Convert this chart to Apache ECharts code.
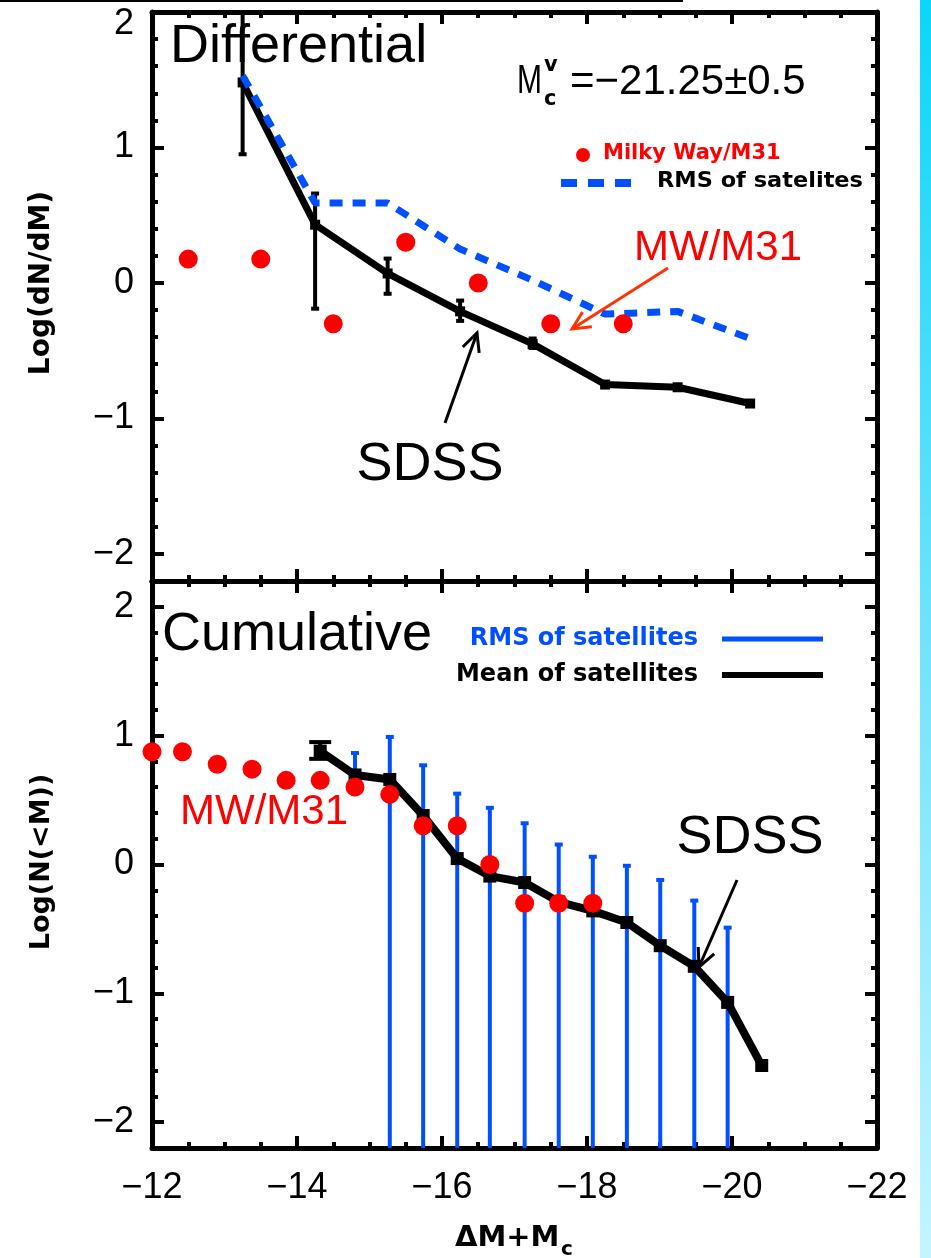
<!DOCTYPE html>
<html>
<head>
<meta charset="utf-8">
<script src="https://cdn.jsdelivr.net/npm/echarts@6/dist/echarts.min.js"></script>
<style>
  html, body { margin: 0; padding: 0; background: #fff; }
  #chart { width: 931px; height: 1258px; }
</style>
</head>
<body>
<div id="chart"></div>
<script>
// ticks (x runs from -12 on the left to -22 on the right)
const xMajorTicks = [-22, -20, -18, -16, -14, -12];
const xMinorTicks = [-21.5, -21, -20.5, -19.5, -19, -18.5, -17.5, -17, -16.5, -15.5, -15, -14.5, -13.5, -13, -12.5];
const yMajorTicks = [-2, -1, 0, 1, 2];
const yMinorTicks = [-1.8, -1.6, -1.4, -1.2, -0.8, -0.6, -0.4, -0.2, 0.2, 0.4, 0.6, 0.8, 1.2, 1.4, 1.6, 1.8];

// differential panel
const diffX = [-13.25, -14.25, -15.25, -16.25, -17.25, -18.25, -19.25, -20.25];
const diffMean = [1.48, 0.43, 0.07, -0.21, -0.45, -0.75, -0.77, -0.89];
const diffRms = [1.53, 0.59, 0.59, 0.25, 0.02, -0.23, -0.21, -0.41];
const diffErrX = [-13.25, -14.25, -15.25, -16.25, -17.25];
const diffErrLow = [0.95, -0.19, -0.08, -0.28, -0.48];
const diffErrHigh = [2.05, 0.66, 0.18, -0.13, -0.41];
const diffMwX = [-12.5, -13.5, -14.5, -15.5, -16.5, -17.5, -18.5];
const diffMwY = [0.176, 0.176, -0.301, 0.301, 0, -0.301, -0.301];

// cumulative panel
const cumX = [-14.32, -14.80, -15.28, -15.74, -16.21, -16.66, -17.14, -17.61, -18.08, -18.55, -19.01, -19.48, -19.94, -20.41];
const cumMean = [0.88, 0.695, 0.66, 0.38, 0.046, -0.09, -0.14, -0.29, -0.36, -0.45, -0.63, -0.79, -1.07, -1.56];
const cumRmsHigh = [0.89, 0.865, 0.99, 0.77, 0.55, 0.44, 0.32, 0.155, 0.06, -0.01, -0.12, -0.28, -0.49, -1.55];
const cumRmsLow = [0.86, 0.58, null, null, null, null, null, null, null, null, null, null, null, -1.57];
const cumErrX = [-14.32];
const cumErrLow = [0.82];
const cumErrHigh = [0.95];
const cumMwX = [-12.0, -12.42, -12.90, -13.38, -13.85, -14.32, -14.80, -15.28, -15.74, -16.21, -16.66, -17.14, -17.61, -18.08];
const cumMwY = [0.875, 0.875, 0.778, 0.740, 0.653, 0.653, 0.602, 0.544, 0.301, 0.301, 0, -0.301, -0.301, -0.301];

const BLUE = '#0050ff';
const RED = '#ff0000';
const panels = [
  { top: 12, height: 569, yMin: -2.2, yMax: 2.0 },
  { top: 581, height: 567, yMin: -2.2, yMax: 2.2 }
];

const minus = v => String(v).replace('-', '\u2212');

function panelAxes(g, p, xLabels, shiftTopLabel) {
  const line = { show: true, onZero: false, lineStyle: { color: '#000', width: 5 } };
  const noLine = { show: false, onZero: false };
  const tick = (vals, len) => ({ show: true, inside: true, length: len, customValues: vals, lineStyle: { color: '#000', width: 4 } });
  const off = { show: false };
  const xb = { gridIndex: g, type: 'value', min: -22, max: -12, inverse: true, splitLine: off };
  const yb = { gridIndex: g, type: 'value', min: p.yMin, max: p.yMax, splitLine: off };
  const xLab = xLabels ? {
    show: true, customValues: xMajorTicks, margin: 22, color: '#000',
    fontFamily: 'Liberation Sans', fontSize: 36, formatter: v => minus(v)
  } : off;
  const yLab = {
    show: true, customValues: yMajorTicks, margin: 18, color: '#000',
    fontFamily: 'Liberation Sans', fontSize: 36,
    formatter: v => (shiftTopLabel && v === 2) ? '{low|2}' : minus(v),
    rich: { low: { fontFamily: 'Liberation Sans', fontSize: 36, padding: [25, 0, 0, 0] } }
  };
  return {
    x: [
      { ...xb, position: 'bottom', axisLine: line, axisTick: tick(xMajorTicks, 12), axisLabel: xLab },
      { ...xb, position: 'bottom', axisLine: noLine, axisTick: tick(xMinorTicks, 6), axisLabel: off },
      { ...xb, position: 'top', axisLine: line, axisTick: tick(xMajorTicks, 12), axisLabel: off },
      { ...xb, position: 'top', axisLine: noLine, axisTick: tick(xMinorTicks, 6), axisLabel: off }
    ],
    y: [
      { ...yb, position: 'left', axisLine: line, axisTick: tick(yMajorTicks, 12), axisLabel: yLab },
      { ...yb, position: 'left', axisLine: noLine, axisTick: tick(yMinorTicks, 6), axisLabel: off },
      { ...yb, position: 'right', axisLine: line, axisTick: tick(yMajorTicks, 12), axisLabel: off },
      { ...yb, position: 'right', axisLine: noLine, axisTick: tick(yMinorTicks, 6), axisLabel: off }
    ]
  };
}

function errorBars(g, p, xs, lows, highs, color, width, capW, z) {
  return {
    type: 'custom', xAxisIndex: 4 * g, yAxisIndex: 4 * g, z,
    data: xs.map((x, i) => [x, lows[i] == null ? p.yMin - 1 : lows[i], highs[i]]),
    renderItem: (params, api) => {
      const clamp = v => Math.min(Math.max(v, p.yMin), p.yMax);
      const x = api.value(0), lo = api.value(1), hi = api.value(2);
      const a = api.coord([x, clamp(hi)]);
      const b = api.coord([x, clamp(lo)]);
      const st = { stroke: color, lineWidth: width };
      const kids = [{ type: 'line', shape: { x1: a[0], y1: a[1], x2: b[0], y2: b[1] }, style: st }];
      if (hi <= p.yMax) kids.push({ type: 'line', shape: { x1: a[0] - capW / 2, y1: a[1], x2: a[0] + capW / 2, y2: a[1] }, style: { stroke: color, lineWidth: 4 } });
      if (lo >= p.yMin) kids.push({ type: 'line', shape: { x1: b[0] - capW / 2, y1: b[1], x2: b[0] + capW / 2, y2: b[1] }, style: { stroke: color, lineWidth: 4 } });
      return { type: 'group', children: kids };
    }
  };
}

const a0 = panelAxes(0, panels[0], false, true);
const a1 = panelAxes(1, panels[1], true, false);

function txt(text, x, y, size, color, opts, extra) {
  return Object.assign({
    type: 'text', x, y, z: 1, silent: true,
    style: Object.assign({
      text, fill: color, fontSize: size, fontFamily: 'Liberation Sans',
      align: 'left', verticalAlign: 'middle'
    }, opts || {})
  }, extra || {});
}

function arrow(x1, y1, x2, y2, color, w, head) {
  const ang = Math.atan2(y2 - y1, x2 - x1);
  const spread = 0.45;
  return [
    { type: 'line', z: 10, shape: { x1, y1, x2, y2 }, style: { stroke: color, lineWidth: w } },
    {
      type: 'polyline', z: 10,
      shape: { points: [
        [x2 - head * Math.cos(ang - spread), y2 - head * Math.sin(ang - spread)],
        [x2, y2],
        [x2 - head * Math.cos(ang + spread), y2 - head * Math.sin(ang + spread)]
      ] },
      style: { stroke: color, lineWidth: w, fill: null }
    }
  ];
}

const legendFont = 'DejaVu Sans';
const bold = { fontWeight: 'bold', fontFamily: legendFont };

const graphics = [
  // leftover slide line and side stripe
  { type: 'rect', shape: { x: 0, y: 0, width: 683, height: 2 }, style: { fill: '#000' } },
  {
    type: 'rect', shape: { x: 920, y: 0, width: 11, height: 1258 },
    style: { fill: new echarts.graphic.LinearGradient(0, 0, 0, 1, [
      { offset: 0, color: '#0cd6f8' }, { offset: 0.5, color: '#6fe3fb' }, { offset: 1, color: '#c4f5ff' }
    ]) }
  },
  // panel titles
  txt('Differential', 170, 47, 54, '#000'),
  txt('Cumulative', 162, 635, 54, '#000'),
  // M_c^v = -21.25 +- 0.5
  txt('M', 517, 82, 40, '#000', null, { scaleX: 0.75 }),
  txt('v', 544, 66, 21, '#000', bold),
  txt('c', 544, 100, 21, '#000', bold),
  txt('=\u221221.25\u00b10.5', 570, 82, 42, '#000'),
  // top legend
  { type: 'circle', shape: { cx: 583, cy: 155, r: 7 }, style: { fill: RED } },
  txt('Milky Way/M31', 603, 154, 21, RED, bold),
  { type: 'line', shape: { x1: 561, y1: 183, x2: 631, y2: 183 }, style: { stroke: BLUE, lineWidth: 8, lineDash: [16, 11] } },
  txt('RMS of satelites', 657, 182, 21, '#000', bold, { scaleX: 1.07 }),
  // bottom legend
  txt('RMS of satellites', 698, 639, 24, BLUE, Object.assign({ align: 'right' }, bold)),
  txt('Mean of satellites', 698, 675, 24, '#000', Object.assign({ align: 'right' }, bold)),
  { type: 'line', shape: { x1: 722, y1: 639, x2: 823, y2: 639 }, style: { stroke: BLUE, lineWidth: 5 } },
  { type: 'line', shape: { x1: 722, y1: 675, x2: 823, y2: 675 }, style: { stroke: '#000', lineWidth: 6 } },
  // annotations
  txt('MW/M31', 718, 248, 42, RED, { align: 'center' }),
  txt('SDSS', 430, 465, 54, '#000', { align: 'center' }),
  txt('MW/M31', 264, 812, 42, RED, { align: 'center' }),
  txt('SDSS', 750, 838, 54, '#000', { align: 'center' }),
  ...arrow(668, 268, 572, 329, '#ff3300', 3, 20),
  ...arrow(445, 423, 477, 333, '#000', 3, 20),
  ...arrow(737, 880, 699, 967, '#000', 3, 20),
  // axis names
  txt('Log(dN/dM)', 42, 283, 28, '#000', Object.assign({ align: 'center' }, bold), { rotation: Math.PI / 2 }),
  txt('Log(N(<M))', 42, 862, 27, '#000', Object.assign({ align: 'center' }, bold), { rotation: Math.PI / 2 }),
  txt('\u0394M+M', 455, 1238, 29, '#000', bold),
  txt('c', 561, 1250, 20, '#000', bold)
];

const chart = echarts.init(document.getElementById('chart'), null, { renderer: 'canvas' });
chart.setOption({
  animation: false,
  backgroundColor: '#fff',
  grid: panels.map(p => ({ left: 152, top: p.top, width: 725, height: p.height, containLabel: false, outerBoundsMode: 'none' })),
  xAxis: [...a0.x, ...a1.x],
  yAxis: [...a0.y, ...a1.y],
  graphic: graphics,
  series: [
    // differential
    {
      type: 'line', xAxisIndex: 0, yAxisIndex: 0, z: 3,
      data: diffX.map((x, i) => [x, diffMean[i]]),
      symbol: 'rect', symbolSize: 10, itemStyle: { color: '#000' },
      lineStyle: { color: '#000', width: 7 }
    },
    errorBars(0, panels[0], diffErrX, diffErrLow, diffErrHigh, '#000', 4, 8, 4),
    {
      type: 'line', xAxisIndex: 0, yAxisIndex: 0, z: 5,
      data: diffX.map((x, i) => [x, diffRms[i]]),
      symbol: 'none',
      lineStyle: { color: BLUE, width: 7, type: [13, 10] }
    },
    {
      type: 'scatter', xAxisIndex: 0, yAxisIndex: 0, z: 6,
      data: diffMwX.map((x, i) => [x, diffMwY[i]]),
      symbolSize: 19, itemStyle: { color: RED, opacity: 1 }
    },
    // cumulative
    errorBars(1, panels[1], cumX, cumRmsLow, cumRmsHigh, BLUE, 4, 8, 3),
    {
      type: 'line', xAxisIndex: 4, yAxisIndex: 4, z: 4,
      data: cumX.map((x, i) => [x, cumMean[i]]),
      symbol: 'rect', symbolSize: 13, itemStyle: { color: '#000' },
      lineStyle: { color: '#000', width: 8 }
    },
    errorBars(1, panels[1], cumErrX, cumErrLow, cumErrHigh, '#000', 4, 22, 4),
    {
      type: 'scatter', xAxisIndex: 4, yAxisIndex: 4, z: 6,
      data: cumMwX.map((x, i) => [x, cumMwY[i]]),
      symbolSize: 19, itemStyle: { color: RED, opacity: 1 }
    }
  ]
});
</script>
</body>
</html>
